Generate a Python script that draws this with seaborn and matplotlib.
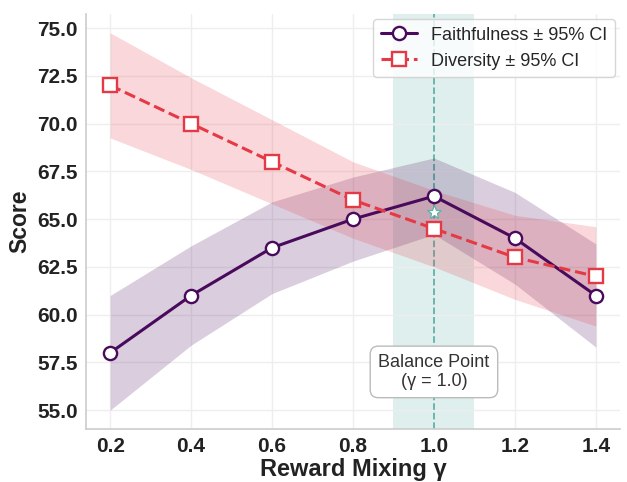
import numpy as np
import pandas as pd
import seaborn as sns
import matplotlib.pyplot as plt

# reward mixing values and scores
GAMMA        = [0.2, 0.4, 0.6, 0.8, 1.0, 1.2, 1.4]
FAITHFULNESS = [58.0, 61.0, 63.5, 65.0, 66.2, 64.0, 61.0]
FAITH_CI     = [3.0, 2.6, 2.4, 2.2, 2.0, 2.4, 2.7]
DIVERSITY    = [72.0, 70.0, 68.0, 66.0, 64.5, 63.0, 62.0]
DIV_CI       = [2.75, 2.4, 2.2, 2.0, 2.0, 2.2, 2.6]

BALANCE_GAMMA = 1.0
BALANCE_SPAN  = (0.9, 1.1)

FAITH_COLOR = "#4a0a5c"
DIV_COLOR   = "#e63946"
TEAL        = "#5fb3a8"

def main():
    sns.set_theme(style="whitegrid")
    plt.rcParams["font.family"] = ["Liberation Sans", "DejaVu Sans"]

    df = pd.DataFrame({"gamma": GAMMA, "faith": FAITHFULNESS, "faith_ci": FAITH_CI,
                       "div": DIVERSITY, "div_ci": DIV_CI})

    fig, ax = plt.subplots(figsize=(6.27, 4.82), dpi=100)

    # balance region
    ax.axvspan(*BALANCE_SPAN, color=TEAL, alpha=0.2, lw=0, zorder=0)
    ax.axvline(BALANCE_GAMMA, color=TEAL, ls="--", lw=1.3, zorder=1)

    # CI bands
    ax.fill_between(df["gamma"], df["faith"] - df["faith_ci"], df["faith"] + df["faith_ci"],
                    color=FAITH_COLOR, alpha=0.2, lw=0, zorder=1)
    ax.fill_between(df["gamma"], df["div"] - df["div_ci"], df["div"] + df["div_ci"],
                    color=DIV_COLOR, alpha=0.2, lw=0, zorder=1)

    sns.lineplot(data=df, x="gamma", y="faith", ax=ax, color=FAITH_COLOR, lw=2.2,
                 marker="o", markersize=9.5, markerfacecolor="white",
                 markeredgecolor=FAITH_COLOR, markeredgewidth=1.7,
                 label="Faithfulness ± 95% CI", zorder=3)
    sns.lineplot(data=df, x="gamma", y="div", ax=ax, color=DIV_COLOR, lw=2.2, ls="--",
                 marker="s", markersize=9.5, markerfacecolor="white",
                 markeredgecolor=DIV_COLOR, markeredgewidth=1.7,
                 label="Diversity ± 95% CI", zorder=3)

    # star between the two curves at the balance point
    i = GAMMA.index(BALANCE_GAMMA)
    mid = (FAITHFULNESS[i] + DIVERSITY[i]) / 2
    ax.plot([BALANCE_GAMMA], [mid], marker="*", ms=10, mfc="white", mec=TEAL, mew=0.9, zorder=4)

    ax.text(BALANCE_GAMMA, 57.0, "Balance Point\n(γ = 1.0)", ha="center", va="center",
            fontsize=13, color="#333333", zorder=5, linespacing=1.1,
            bbox=dict(boxstyle="round,pad=0.45", fc="white", ec="#bbbbbb", lw=1.0))

    ax.set_xticks(GAMMA)
    ax.set_xlabel("Reward Mixing γ", fontsize=17, fontweight="bold", color="#222222", labelpad=1)
    ax.set_ylabel("Score", fontsize=16.5, fontweight="bold", color="#222222", labelpad=4)
    for lab in ax.get_xticklabels() + ax.get_yticklabels():
        lab.set_fontweight("bold")
        lab.set_fontsize(15)
        lab.set_color("#222222")
    ax.grid(True, color="#eeeeee", lw=1.0)
    sns.despine(ax=ax)
    for side in ("left", "bottom"):
        ax.spines[side].set_color("#cccccc")
        ax.spines[side].set_linewidth(1.2)
    ax.tick_params(length=0, pad=6)

    leg = ax.legend(loc="upper right", fontsize=13, frameon=True, fancybox=True,
                    borderaxespad=0.3)
    leg.get_frame().set_edgecolor("#cccccc")

    fig.subplots_adjust(left=0.137, right=0.989, bottom=0.11, top=0.971)
    fig.savefig("out.png", dpi=100)

if __name__ == "__main__":
    main()
